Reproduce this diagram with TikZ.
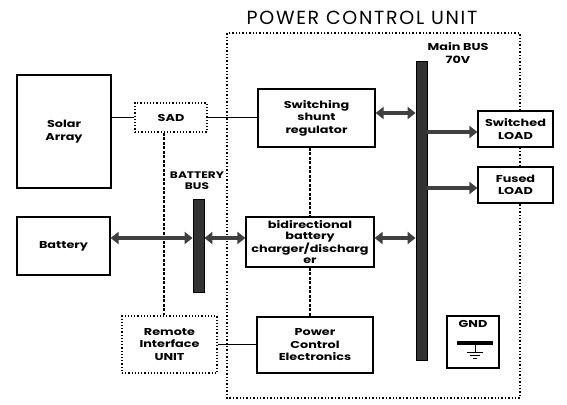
\documentclass[tikz,border=0pt]{standalone}
\usepackage{fontspec}
\setmainfont{Poppins}
\newfontfamily\lblfont[FakeStretch=1.28]{Poppins}
\usetikzlibrary{arrows.meta}
\tikzset{
  blk/.style={draw, line width=1.2pt, align=center, inner sep=1pt, font=\lblfont\bfseries\fontsize{10}{12.5}\selectfont},
  dblk/.style={blk, dotted, line width=1.4pt},
  bus/.style={draw, fill=black!80, line width=0.8pt, minimum width=11pt, inner sep=0pt},
  pwr/.style={line width=4pt, black!75, {Triangle[length=8pt,width=12pt]}-{Triangle[length=8pt,width=12pt]}},
  feed/.style={line width=4pt, black!75, -{Triangle[length=8pt,width=12pt]}},
  sig/.style={dash pattern=on 3pt off 1.5pt, line width=1.3pt},
  wire/.style={line width=1pt},
  pcu/.style={dotted, line width=1.4pt},
}
\begin{document}
\begin{tikzpicture}[x=1pt, y=-1pt]
\useasboundingbox (0,0) rectangle (567,404);
\node[font=\addfontfeature{LetterSpace=9}\fontsize{19}{21}\selectfont] (title) at (362,18) {POWER CONTROL UNIT};
\coordinate (pcuR) at (520,33);

\node[blk, minimum width=94pt, minimum height=113pt] (sa) at (64,131.5) {Solar\\Array};
\node[dblk, minimum width=72pt, minimum height=29pt] (sad) at (171,117.5) {SAD};
\node[blk, minimum width=117pt, minimum height=58pt] (ssr) at (316.5,118) {Switching\\shunt\\regulator};
\node[blk, minimum width=93pt, minimum height=58pt] (bat) at (63.5,246) {Battery};
\node[blk, minimum width=128pt, minimum height=50pt, inner sep=0pt, font=\lblfont\bfseries\fontsize{10}{11}\selectfont] (bdc) at (310,242) {bidirectional\\battery\\charger/discharg\\er};
\node[dblk, minimum width=95pt, minimum height=57pt] (riu) at (169.5,344.5) {Remote\\Interface\\UNIT};
\node[blk, minimum width=116pt, minimum height=56pt] (pce) at (315,345) {Power\\Control\\Electronics};
\node[blk, minimum width=75pt, minimum height=36pt] (sw) at (515.5,129) {Switched\\LOAD};
\node[blk, minimum width=75pt, minimum height=36pt] (fu) at (515.5,185) {Fused\\LOAD};

\node[bus, minimum height=299pt] (mbus) at (421.5,210.5) {};
\node[bus, minimum height=93pt] (bbus) at (198.5,245.5) {};
\node[blk, draw=none] (mlbl) at (458,53) {Main BUS\\70V};
\node[blk, draw=none, font=\lblfont\bfseries\fontsize{9.5}{11}\selectfont] (blbl) at (197,181) {BATTERY\\BUS};

\node[blk, minimum width=52pt, minimum height=52pt] (gnd) at (473,342) {};
\node[blk, draw=none, anchor=north] (gndlbl) at ([yshift=-3pt]gnd.north) {GND};
\draw[line width=3.5pt] (457,343) -- (493,343);
\draw[line width=1pt] (475,343) -- (475,352) (467,352) -- (483,352) (470,355) -- (480,355) (473,358) -- (477,358);

\draw[pcu] (sw.north -| pcuR) -- (pcuR) -- (227,33) -- (227,398) -- (520,398) -- (fu.south -| pcuR);
\draw[pcu] (sw.south -| pcuR) -- (fu.north -| pcuR);

\draw[wire] (sad.west) -- (sad.west -| sa.east);
\draw[wire] (sad.east) -- (sad.east -| ssr.west);
\draw[wire] (riu.east) -- (riu.east -| pce.west);

\draw[sig] ([xshift=-7pt]sad.south) -- ([xshift=-7pt]sad.south |- riu.north);
\draw[sig] (bdc.north |- ssr.south) -- (bdc.north);
\draw[sig] (bdc.south) -- (bdc.south |- pce.north);

\draw[pwr] ([yshift=4pt]bdc.west -| bat.east) -- ([yshift=4pt]bdc.west -| bbus.west);
\draw[pwr] ([yshift=4pt]bdc.west -| bbus.east) -- ([yshift=4pt]bdc.west);
\draw[pwr] ([yshift=4pt]bdc.east) -- ([yshift=4pt]bdc.east -| mbus.west);
\draw[pwr] ([yshift=5pt]ssr.east) -- ([yshift=5pt]ssr.east -| mbus.west);
\draw[feed] ([yshift=-3pt]sw.west -| mbus.east) -- ([yshift=-3pt]sw.west);
\draw[feed] ([yshift=-3pt]fu.west -| mbus.east) -- ([yshift=-3pt]fu.west);
\end{tikzpicture}
\end{document}
